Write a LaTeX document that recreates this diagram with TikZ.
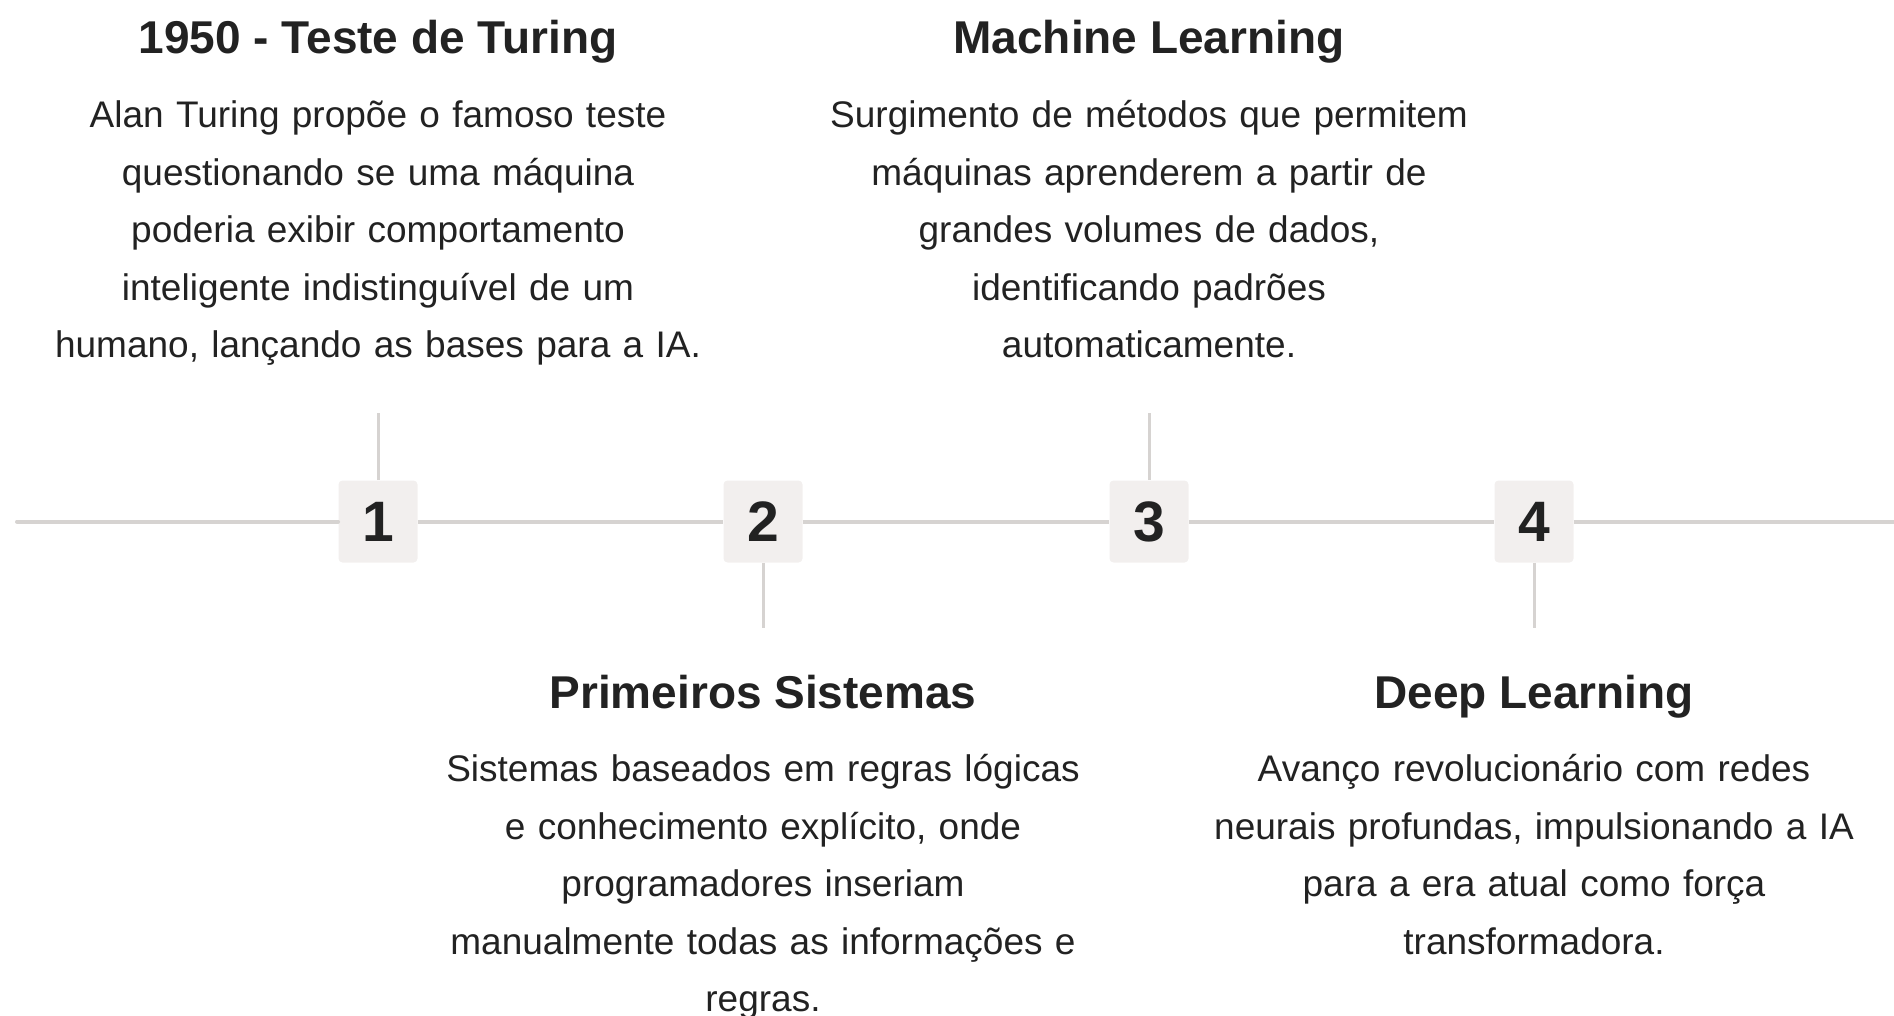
\documentclass[tikz,border=0pt]{standalone}
\usepackage{fontspec}
\setmainfont{Liberation Sans}
\usetikzlibrary{positioning}

\definecolor{ink}{HTML}{222222}
\definecolor{rulegray}{HTML}{D6D3D1}
\definecolor{chip}{HTML}{F2EFEE}

\tikzset{
 numbox/.style={fill=chip, rounded corners=2pt, minimum width=39.5pt,
   minimum height=41pt, inner sep=0pt, text=ink,
   font=\fontsize{28.5}{30}\selectfont\bfseries},
 headline/.style={anchor=base, inner sep=0pt, text=ink,
   font=\fontsize{23}{26}\selectfont\bfseries},
 blurb/.style={inner sep=0pt, text width=420pt, align=center, text=ink,
   font=\fontsize{18.5}{28.7}\selectfont},
 track/.style={draw=rulegray, line width=2pt},
 stem/.style={draw=rulegray, line width=1.5pt},
}

\begin{document}
\begin{tikzpicture}[x=0.5pt,y=-0.5pt]

\clip (0,0) rectangle (1894,1016);

\newcommand{\milestone}[6] % [n][x][stem end][title base][title][text]
{
 \node[numbox] (n#1) at (#2,\ty) {#1};
 \coordinate (s#1) at (#2,#3);
 \draw[stem] (n#1) -- (s#1);
 \node[headline] (t#1) at (#2,#4) {#5};
 \node[blurb, below=16.7pt of t#1.base] (b#1) {\strut #6};
}

\def\ty {521.5}
\coordinate (start) at (17,\ty);
\coordinate (stop) at (1910,\ty);

\milestone{1}{378}{413}{54}{1950 - Teste de Turing}
 {Alan Turing propõe o famoso teste\\questionando se uma máquina\\poderia exibir comportamento\\inteligente indistinguível de um\\humano, lançando as bases para a IA.}
\milestone{2}{763}{628}{708}{Primeiros Sistemas}
 {Sistemas baseados em regras lógicas\\e conhecimento explícito, onde\\programadores inseriam\\manualmente todas as informações e\\regras.}
\milestone{3}{1149}{413}{54}{Machine Learning}
 {Surgimento de métodos que permitem\\máquinas aprenderem a partir de\\grandes volumes de dados,\\identificando padrões\\automaticamente.}
\milestone{4}{1534}{628}{708}{Deep Learning}
 {Avanço revolucionário com redes\\neurais profundas, impulsionando a IA\\para a era atual como força\\transformadora.}

% timeline
\draw[track, line cap=round] (start) -- (n1);
\foreach \a/\b in {1/2,2/3,3/4}
 \draw[track] (n\a) -- (n\b);
\draw[track] (n4) -- (stop);

\end{tikzpicture}
\end{document}
